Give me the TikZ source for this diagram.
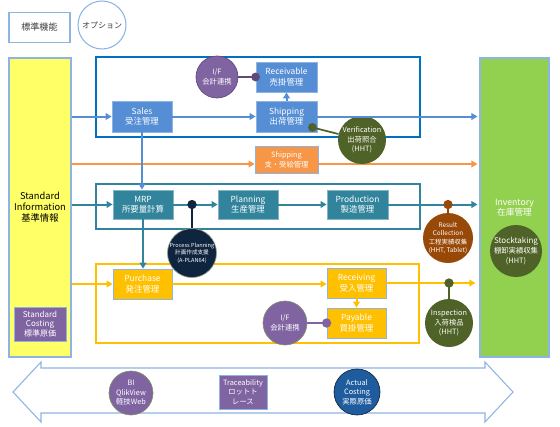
\documentclass[tikz,border=0pt]{standalone}
\usepackage{fontspec}
\setmainfont{Noto Sans CJK JP}
\usetikzlibrary{arrows.meta}
\definecolor{frameblue}{HTML}{0070C0}
\definecolor{boxblue}{HTML}{558ED5}
\definecolor{bdr}{HTML}{8EB4E3}
\definecolor{orng}{HTML}{F79646}
\definecolor{teal}{HTML}{31849B}
\definecolor{gold}{HTML}{FFC000}
\definecolor{yel}{HTML}{FFFF66}
\definecolor{grn}{HTML}{92D050}
\definecolor{purp}{HTML}{8064A2}
\definecolor{dpurp}{HTML}{5F497A}
\definecolor{olive}{HTML}{4F6228}
\definecolor{brwn}{HTML}{984807}
\definecolor{navy}{HTML}{0F243E}
\definecolor{acblue}{HTML}{1F5C9E}
\definecolor{legtext}{HTML}{404040}
\begin{document}
\begin{tikzpicture}[x=0.75pt,y=-0.75pt,
  box/.style={rectangle, draw=bdr, line width=0.6pt, text=white, align=center, inner sep=0pt,
    font=\fontsize{6.3}{7.8}\selectfont},
  sz/.style 2 args={minimum width=#1*0.75pt, minimum height=#2*0.75pt},
  circ/.style={circle, inner sep=0pt, minimum size=#1*1.5pt, text=white, align=center,
    font=\fontsize{5.5}{7.2}\selectfont},
  frm/.style={draw=#1, line width=2.2pt},
  conn/.style={draw=#1, line width=1.5pt, -{Triangle[length=4.5pt,width=5pt]}},
  lnk/.style={draw=#1, line width=1.3pt},
  dotc/.style={fill=#1}
]
\useasboundingbox (0,0) rectangle (560,426);

% legend
\node[rectangle, draw=bdr, line width=0.8pt, fill=white, sz={61}{30}, text=legtext,
  font=\fontsize{6.8}{8}\selectfont] (leg1) at (39.5,27.5) {標準機能};
\node[circle, draw=bdr, line width=0.8pt, fill=white, minimum size=48*0.75pt, inner sep=0pt,
  text=legtext, font=\fontsize{6}{7}\selectfont] (leg2) at (102,25) {オプション};

% side columns
\node[rectangle, draw=bdr, line width=0.8pt, fill=yel, sz={62}{299}, align=center,
  font=\fontsize{7}{8.2}\selectfont] (std) at (40,207.5) {Standard\\Information\\基準情報};
\node[box, fill=purp, sz={52}{34}, font=\fontsize{6}{7.4}\selectfont] (stdc) at (40,324) {Standard\\Costing\\標準原価};
\node[rectangle, draw=bdr, line width=0.8pt, fill=grn, sz={69}{299}, align=center, text=white,
  font=\fontsize{6.5}{8}\selectfont] (inv) at (514.5,207.5) {Inventory\\在庫管理};
\node[circ=26, fill=olive] (stock) at (516,251) {{\fontsize{6}{7.2}\selectfont Stocktaking}\\棚卸実績収集\\(HHT)};

% frames
\draw[frm=frameblue] (96,57) rectangle (420,137);
\draw[frm=teal] (96,184) rectangle (420,229);
\draw[frm=gold] (96,264) rectangle (419,343);

% orange line (drawn under circles)
\coordinate (oL) at (71,164);

% blue group
\node[box, fill=boxblue, sz={60}{31}] (sales) at (142,116.5) {Sales\\受注管理};
\node[box, fill=boxblue, sz={61}{30}] (recv) at (286.5,77) {Receivable\\売掛管理};
\node[box, fill=boxblue, sz={61}{31}] (ship) at (286.5,116.5) {Shipping\\出荷管理};
\node[circ=21, fill=purp, draw=dpurp, line width=0.5pt] (if1) at (217,77) {I/F\\会計連携};

% orange
\node[box, fill=orng, sz={63}{27}, font=\fontsize{5.5}{7.4}\selectfont] (ship2) at (286.5,159.5) {Shipping\\支・受給管理};
\draw[conn=orng] (oL) -- (oL -| ship2.west);
\draw[conn=orng, shorten >=1.5pt] (oL -| ship2.east) -- (oL -| inv.west);

\node[circ=24, fill=olive] (ver) at (362,140) {Verification\\出荷照合\\(HHT)};

% teal group
\node[box, fill=teal, draw=teal!60, sz={60}{29}] (mrp) at (143,204.5) {MRP\\所要量計算};
\node[box, fill=teal, draw=teal!60, sz={60}{29}] (plan) at (248,204.5) {Planning\\生産管理};
\node[box, fill=teal, draw=teal!60, sz={61}{29}] (prod) at (357.5,204.5) {Production\\製造管理};
\node[circ=24, fill=navy, draw=olive!60, line width=0.5pt, font=\fontsize{4.2}{5.6}\selectfont] (pp) at (192,253) {Process Planning\\計画作成支援\\(A-PLAN64)};
\node[circ=25, fill=brwn, font=\fontsize{4.8}{6.2}\selectfont] (rc) at (448,238) {Result\\Collection\\工程実績収集\\(HHT, Tablet)};

% gold group
\node[box, fill=gold, sz={59}{30}] (purch) at (142.5,284) {Purchase\\発注管理};
\node[box, fill=gold, sz={59}{30}] (rcv) at (356.5,283) {Receiving\\受入管理};
\node[box, fill=gold, sz={59}{30}] (pay) at (356.5,323) {Payable\\買掛管理};
\node[circ=22, fill=purp, draw=olive!70, line width=0.5pt] (if2) at (285,323) {I/F\\会計連携};
\node[circ=24, fill=olive] (insp) at (449,323) {Inspection\\入荷検品\\(HHT)};

% connectors: blue
\draw[conn=boxblue] (std.east |- sales) -- (sales.west);
\draw[conn=boxblue] (sales.east) -- (ship.west);
\draw[conn=boxblue] (ship.north) -- (recv.south);
\draw[conn=boxblue, shorten >=1.5pt] (ship.east) -- (ship -| inv.west);
\draw[conn=boxblue] (sales.south) -- (sales.south |- mrp.north);
\draw[lnk=dpurp] (if1) -- (recv.west);
\fill[dotc=dpurp] (recv.west) circle[radius=3.3pt];
\coordinate (vdot) at ([shift={(-5,-5)}]ship.south east);
\draw[lnk=olive] (vdot) -- (ver);
\fill[dotc=olive] (vdot) circle[radius=3.3pt];

% teal
\draw[conn=teal] (std.east |- mrp) -- (mrp.west);
\draw[conn=teal] (mrp.east) -- (plan.west);
\draw[conn=teal] (plan.east) -- (prod.west);
\draw[conn=teal, shorten >=1.5pt] (prod.east) -- (prod -| inv.west);
\draw[conn=teal] (mrp.south) -- (mrp.south |- purch.north);
\coordinate (ppdot) at (pp |- mrp);
\draw[lnk=navy] (ppdot) -- (pp.north);
\fill[dotc=navy] (ppdot) circle[radius=3.5pt];
\coordinate (rcdot) at (rc |- prod);
\draw[lnk=brwn] (rcdot) -- (rc.north);
\fill[dotc=brwn] (rcdot) circle[radius=3.5pt];

% gold
\draw[conn=gold] (std.east |- purch) -- (purch.west);
\draw[conn=gold] (purch.east) -- (purch.east -| rcv.west);
\draw[conn=gold] (rcv.south) -- (pay.north);
\draw[conn=gold, shorten >=3pt] (rcv.east) -- (rcv -| inv.west);
\coordinate (indot) at (insp |- rcv);
\draw[lnk=olive] (indot) -- (insp.north);
\fill[dotc=olive] (indot) circle[radius=3.5pt];
\draw[lnk=purp] (if2) -- (pay.west);
\fill[dotc=purp] (pay.west) circle[radius=3.5pt];

% bottom double arrow
\draw[draw=bdr, line width=0.8pt, fill=white] (13,392) -- (41,362) -- (41,368) -- (485,368) -- (485,362)
  -- (513,392) -- (485,422) -- (485,413) -- (41,413) -- (41,422) -- cycle;
\node[circ=22, fill=purp, draw=olive!70, line width=0.5pt] (bi) at (131,393) {BI\\QlikView\\軽技Web};
\node[box, fill=purp, sz={48}{34}, font=\fontsize{5.5}{7.2}\selectfont] (trace) at (243,392) {Traceability\\ロットト\\レース};
\node[circ=23, fill=acblue, draw=navy, line width=0.5pt] (ac) at (357,392) {Actual\\Costing\\実際原価};
\end{tikzpicture}
\end{document}
